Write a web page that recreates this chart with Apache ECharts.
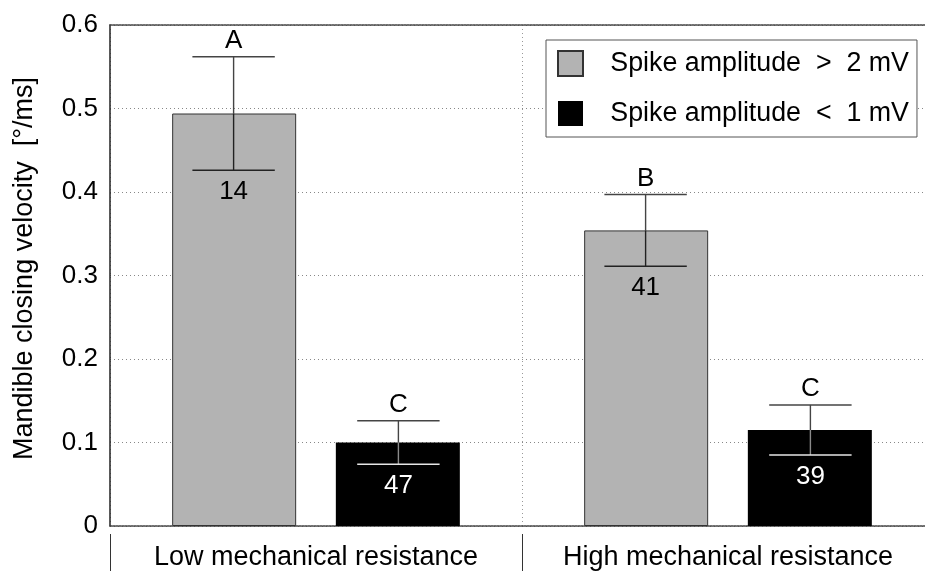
<!DOCTYPE html>
<html>
<head>
<meta charset="utf-8">
<script src="https://cdn.jsdelivr.net/npm/echarts@6/dist/echarts.min.js"></script>
<style>
html,body{margin:0;padding:0;background:#fff;overflow:hidden;}
#chart{width:925px;height:571px;}
</style>
</head>
<body>
<div id="chart"></div>
<script>
// ---- data ----
const categories = ['Low mechanical resistance', 'High mechanical resistance'];
const seriesNames = ['Spike amplitude  >  2 mV', 'Spike amplitude  <  1 mV'];
const highSpikeMean = [0.494, 0.354];
const highSpikeErr = [0.068, 0.043];
const lowSpikeMean = [0.100, 0.115];
const lowSpikeErr = [0.026, 0.030];
const highSpikeLetters = ['A', 'B'];
const lowSpikeLetters = ['C', 'C'];
const highSpikeN = ['14', '41'];
const lowSpikeN = ['47', '39'];
const yTicks = { min: 0, max: 0.6, interval: 0.1 };

const FONT = '"Liberation Sans", Arial, sans-serif';
const FS = 27;
const FS_TICK = 26;

function errData(means, errs, s) {
  return means.map((m, i) => [i, m, errs[i], s]);
}

function makeRender(letters, ns, dark) {
  return function (params, api) {
    const ci = api.value(0), m = api.value(1), e = api.value(2), s = api.value(3);
    const c = api.coord([ci, m]);
    const band = api.size([1, 0])[0];
    const x = c[0] + (s === 0 ? -1 : 1) * band * 0.2;
    const half = band * 0.1;
    const yTop = api.coord([ci, m + e])[1];
    const yBot = api.coord([ci, m - e])[1];
    const yBar = c[1];
    const outCol = '#444';
    const inCol = dark ? '#8a8a8a' : '#222';
    const lowCapCol = dark ? '#e6e6e6' : '#222';
    const lw = 1.4;
    const i = params.dataIndex;
    return {
      type: 'group',
      children: [
        { type: 'line', shape: { x1: x - half, y1: yTop, x2: x + half, y2: yTop }, style: { stroke: outCol, lineWidth: lw } },
        { type: 'line', shape: { x1: x, y1: yTop, x2: x, y2: yBar }, style: { stroke: outCol, lineWidth: lw } },
        { type: 'line', shape: { x1: x, y1: yBar, x2: x, y2: yBot }, style: { stroke: inCol, lineWidth: lw } },
        { type: 'line', shape: { x1: x - half, y1: yBot, x2: x + half, y2: yBot }, style: { stroke: lowCapCol, lineWidth: lw } },
        { type: 'text', style: { text: letters[i], x: x, y: yTop - 16, fill: '#000', font: FS_TICK + 'px ' + FONT, align: 'center', verticalAlign: 'middle' } },
        { type: 'text', style: { text: ns[i], x: x, y: yBot + 22, fill: dark ? '#fff' : '#000', font: FS_TICK + 'px ' + FONT, align: 'center', verticalAlign: 'middle' } }
      ]
    };
  };
}

const chart = echarts.init(document.getElementById('chart'), null, { renderer: 'canvas' });
chart.setOption({
  animation: false,
  backgroundColor: '#fff',
  textStyle: { fontFamily: FONT },
  grid: { left: 110, right: -9, top: 25, bottom: 45, outerBoundsMode: 'none', containLabel: false },
  legend: {
    orient: 'vertical',
    left: 546, top: 40,
    itemWidth: 25, itemHeight: 25, itemGap: 23,
    padding: [10, 8, 10, 11],
    borderColor: '#555', borderWidth: 1, backgroundColor: '#fff',
    icon: 'rect',
    data: seriesNames,
    formatter: n => '   ' + n,
    textStyle: { fontSize: 26.8, color: '#000', fontFamily: FONT },
    z: 10
  },
  xAxis: [
    {
      type: 'category', data: categories, position: 'bottom',
      axisLine: { show: true, lineStyle: { color: '#444', width: 1.5, type: [2, 1] } },
      axisTick: { show: false }, axisLabel: { show: false },
      splitLine: { show: true, interval: 0, lineStyle: { color: '#999', type: [1, 3], width: 1 } }
    },
    {
      type: 'category', data: categories, position: 'bottom', offset: 8,
      axisLine: { show: false },
      axisTick: { show: true, interval: 0, length: 40, lineStyle: { color: '#333', width: 1 } },
      axisLabel: { show: true, interval: 0, hideOverlap: false, fontSize: FS, color: '#000', margin: 10, fontFamily: FONT },
      splitLine: { show: false }
    },
    {
      type: 'category', data: categories, position: 'top',
      axisLine: { show: true, lineStyle: { color: '#444', width: 1.5, type: [2, 1] } },
      axisTick: { show: false }, axisLabel: { show: false }, splitLine: { show: false }
    }
  ],
  yAxis: {
    type: 'value', min: yTicks.min, max: yTicks.max, interval: yTicks.interval,
    name: 'Mandible closing velocity  [°/ms]', nameLocation: 'middle', nameGap: 72,
    nameTextStyle: { fontSize: FS, color: '#000', fontFamily: FONT, padding: [0, 0, 0, 14] },
    axisLine: { show: true, lineStyle: { color: '#222', width: 1.5 } },
    axisTick: { show: false },
    axisLabel: { fontSize: FS_TICK, color: '#000', margin: 12, fontFamily: FONT },
    splitLine: { show: true, lineStyle: { color: '#888', type: [1, 3], width: 1 } }
  },
  series: [
    {
      name: seriesNames[0], type: 'bar', data: highSpikeMean, barWidth: 124, barGap: '32%',
      itemStyle: { color: '#b3b3b3', borderColor: '#333', borderWidth: 1 }
    },
    {
      name: seriesNames[1], type: 'bar', data: lowSpikeMean, barWidth: 124,
      itemStyle: { color: '#000', borderColor: '#000', borderWidth: 0 }
    },
    {
      type: 'custom', renderItem: makeRender(highSpikeLetters, highSpikeN, false),
      data: errData(highSpikeMean, highSpikeErr, 0), encode: { x: 0, y: 1 }, z: 5, silent: true
    },
    {
      type: 'custom', renderItem: makeRender(lowSpikeLetters, lowSpikeN, true),
      data: errData(lowSpikeMean, lowSpikeErr, 1), encode: { x: 0, y: 1 }, z: 5, silent: true
    }
  ]
});
</script>
</body>
</html>
